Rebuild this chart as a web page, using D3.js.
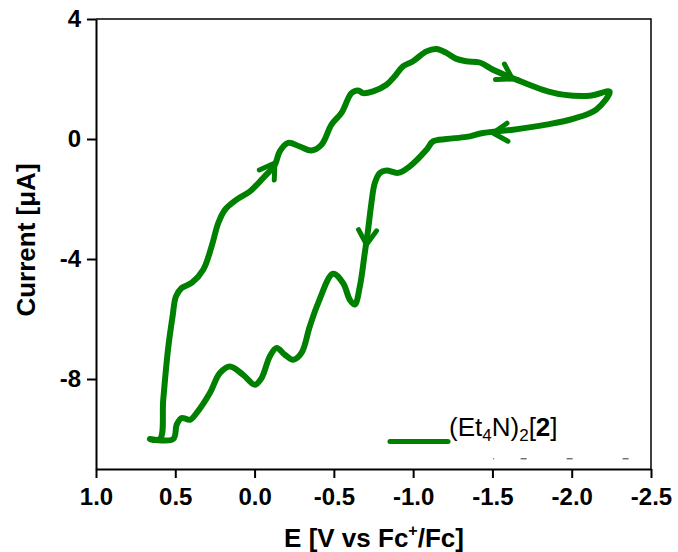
<!DOCTYPE html>
<html>
<head>
<meta charset="utf-8">
<script src="https://cdn.jsdelivr.net/npm/d3@7"></script>
<style>
  html, body { margin: 0; padding: 0; background: #fff; }
  svg { display: block; }
  text { font-family: "Liberation Sans", Arial, sans-serif; }
</style>
</head>
<body>
<svg id="chart" width="678" height="552"></svg>
<script>
// Cyclic voltammogram of (Et4N)2[2]: potential (V vs Fc+/Fc) and current (µA), in scan order
const potential = [
  0.660, 0.597, 0.576, 0.546, 0.517, 0.496, 0.460, 0.395, 0.324, 0.271,
  0.229, 0.187, 0.113, 0.030, -0.054, -0.128, -0.159, -0.212, -0.285, -0.359,
  -0.422, -0.485, -0.548, -0.611, -0.653, -0.684, -0.747, -0.832, -0.884, -0.936,
  -0.999, -1.084, -1.147, -1.210, -1.273, -1.336, -1.420, -1.504, -1.651, -1.819,
  -1.945, -2.113, -2.239, -2.155, -2.008, -1.840, -1.630, -1.440, -1.336, -1.210,
  -1.125, -1.084, -0.979, -0.905, -0.832, -0.790, -0.758, -0.737, -0.716, -0.695,
  -0.664, -0.632, -0.601, -0.558, -0.495, -0.401, -0.348, -0.296, -0.243, -0.191,
  -0.139, -0.096, -0.044, -0.002, 0.072, 0.156, 0.219, 0.282, 0.365, 0.408,
  0.460, 0.491, 0.513, 0.660
];
const current = [
  -10.00, -10.00, -8.69, -7.02, -5.91, -5.25, -4.97, -4.79, -4.36, -3.58,
  -2.80, -2.36, -2.02, -1.75, -1.30, -0.86, -0.41, -0.13, -0.25, -0.38,
  -0.19, 0.48, 0.87, 1.53, 1.62, 1.53, 1.59, 1.81, 2.09, 2.42,
  2.59, 2.92, 3.00, 2.87, 2.67, 2.59, 2.55, 2.31, 1.98, 1.64,
  1.48, 1.44, 1.58, 0.98, 0.67, 0.48, 0.31, 0.20, 0.07, 0.00,
  -0.08, -0.36, -0.91, -1.13, -1.05, -1.13, -1.47, -2.13, -3.02, -3.80,
  -4.91, -5.52, -5.36, -4.80, -4.49, -5.47, -6.25, -7.13, -7.36, -7.19,
  -6.97, -7.25, -7.97, -8.19, -7.86, -7.58, -7.80, -8.47, -9.13, -9.36,
  -9.30, -9.52, -10.00, -10.00
];

// Scan-direction arrowheads: location on the trace and heading (degrees, screen frame)
const arrowE = [-0.128, -1.626, -1.504, -0.706];
const arrowI = [-0.80, 2.00, 0.20, -3.52];
const arrowHeading = [-56, 30, 177, 94];

// Axis ticks
const xTicks = [1.0, 0.5, 0.0, -0.5, -1.0, -1.5, -2.0, -2.5];
const yTicks = [4, 0, -4, -8];

// Legend swatch span (E) and its level (I)
const legendE = [-0.854, -1.220];
const legendI = -10.08;

// Faint marks left in the lower-right corner of the frame
const strayE = [-1.508, -1.697, -1.987, -2.340];
const strayI = -10.66;

const svg = d3.select("#chart");
const plotLeft = 96, plotRight = 651, plotTop = 19, plotBottom = 469;
const green = "#008000";

const x = d3.scaleLinear().domain([1.0, -2.5]).range([plotLeft, plotRight]);
const y = d3.scaleLinear().domain([-11, 4]).range([plotBottom, plotTop]);

const fmtX = d => d3.format(".1f")(d).replace("\u2212", "-");
const fmtY = d => d3.format("d")(d).replace("\u2212", "-");

// Frame (top and right edges)
svg.append("path")
  .attr("d", `M${plotLeft},${plotTop}H${plotRight}V${plotBottom}`)
  .attr("fill", "none").attr("stroke", "#000").attr("stroke-width", 1.5);

// Bottom axis
const xAxis = svg.append("g")
  .attr("transform", `translate(0,${plotBottom})`)
  .call(d3.axisBottom(x).tickValues(xTicks).tickFormat(fmtX).tickSize(9).tickPadding(10).tickSizeOuter(0));
xAxis.select(".domain").attr("stroke-width", 2);
xAxis.selectAll(".tick line").attr("stroke-width", 2);
xAxis.selectAll(".tick text")
  .attr("font-size", 24).attr("font-weight", "bold").attr("fill", "#000")
  .attr("font-family", "Liberation Sans, Arial, sans-serif");

// Left axis
const yAxis = svg.append("g")
  .attr("transform", `translate(${plotLeft},0)`)
  .call(d3.axisLeft(y).tickValues(yTicks).tickFormat(fmtY).tickSize(9).tickPadding(6).tickSizeOuter(0));
yAxis.select(".domain").attr("stroke-width", 2);
yAxis.selectAll(".tick line").attr("stroke-width", 2);
yAxis.selectAll(".tick text")
  .attr("font-size", 24).attr("font-weight", "bold").attr("fill", "#000")
  .attr("font-family", "Liberation Sans, Arial, sans-serif");

// Axis titles
const xTitle = svg.append("text")
  .attr("x", 374).attr("y", 547)
  .attr("text-anchor", "middle")
  .attr("font-size", 26).attr("font-weight", "bold");
xTitle.append("tspan").text("E [V vs Fc");
xTitle.append("tspan").attr("font-size", 16).attr("dy", -11).text("+");
xTitle.append("tspan").attr("dy", 11).text("/Fc]");

svg.append("text")
  .attr("transform", "translate(35,240) rotate(-90)")
  .attr("text-anchor", "middle")
  .attr("font-size", 26).attr("font-weight", "bold")
  .text("Current [\u03BCA]");

// Voltammogram trace
const pts = potential.map((e, i) => [e, current[i]]);
const line = d3.line()
  .x(d => x(d[0])).y(d => y(d[1]))
  .curve(d3.curveCatmullRom.alpha(0.5));

svg.append("path")
  .datum(pts)
  .attr("d", line)
  .attr("fill", "none")
  .attr("stroke", green)
  .attr("stroke-width", 6)
  .attr("stroke-linejoin", "round")
  .attr("stroke-linecap", "round");

// Arrowheads (open chevrons)
const wing = 17, spread = 32;
arrowE.forEach((e, i) => {
  const tx = x(e), ty = y(arrowI[i]);
  const back = (arrowHeading[i] + 180) * Math.PI / 180;
  const a1 = back + spread * Math.PI / 180, a2 = back - spread * Math.PI / 180;
  svg.append("path")
    .attr("d", `M${tx + wing * Math.cos(a1)},${ty + wing * Math.sin(a1)}L${tx},${ty}L${tx + wing * Math.cos(a2)},${ty + wing * Math.sin(a2)}`)
    .attr("fill", "none")
    .attr("stroke", green)
    .attr("stroke-width", 5)
    .attr("stroke-linejoin", "round")
    .attr("stroke-linecap", "round");
});

// Legend
svg.append("line")
  .attr("x1", x(legendE[0])).attr("x2", x(legendE[1]))
  .attr("y1", y(legendI)).attr("y2", y(legendI))
  .attr("stroke", green).attr("stroke-width", 5).attr("stroke-linecap", "round");

const leg = svg.append("text")
  .attr("x", x(legendE[1]) + 1).attr("y", 436)
  .attr("font-size", 26).attr("fill", "#000");
leg.append("tspan").text("(Et");
leg.append("tspan").attr("font-size", 17).attr("dy", 5).text("4");
leg.append("tspan").attr("dy", -5).text("N)");
leg.append("tspan").attr("font-size", 17).attr("dy", 5).text("2");
leg.append("tspan").attr("dy", -5).text("[");
leg.append("tspan").attr("font-weight", "bold").text("2");
leg.append("tspan").text("]");

// Small stray dashes near the bottom-right of the frame
svg.selectAll(".stray")
  .data(strayE)
  .join("line")
  .attr("class", "stray")
  .attr("x1", (d, i) => x(d) - (i === 0 ? 0.5 : 3))
  .attr("x2", (d, i) => x(d) + (i === 0 ? 0.5 : 3))
  .attr("y1", y(strayI)).attr("y2", y(strayI))
  .attr("stroke", "#333").attr("stroke-width", 1);
</script>
</body>
</html>
